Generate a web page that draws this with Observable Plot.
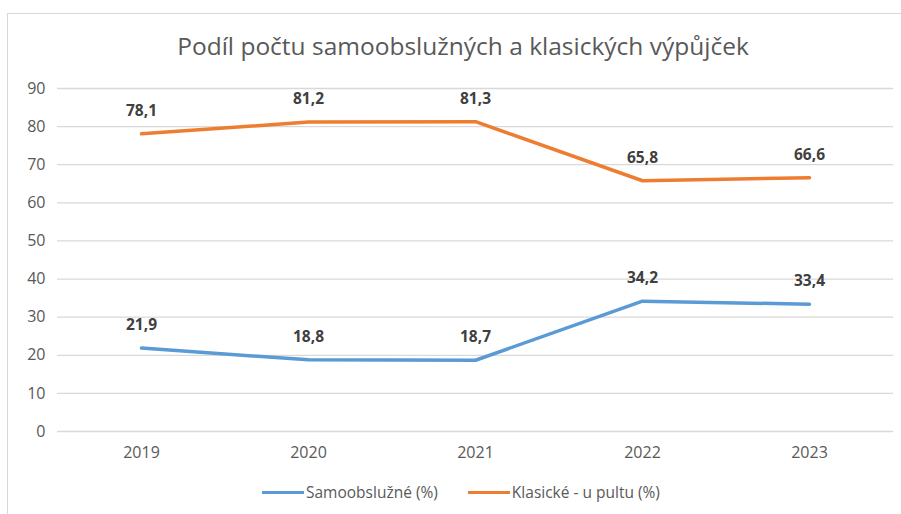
<!DOCTYPE html>
<html><head><meta charset="utf-8">
<script src="https://cdn.jsdelivr.net/npm/d3@7"></script>
<script src="https://cdn.jsdelivr.net/npm/@observablehq/plot@0.6"></script>
<style>
body{margin:0;background:#fff;font-family:"Open Sans",sans-serif;overflow:hidden;}
#frame{position:absolute;left:7px;top:13px;width:920px;height:520px;border:1px solid #d9d9d9;}
#title{position:absolute;left:0;width:926px;top:29px;text-align:center;font-size:24.5px;color:#595959;}
#chart{position:absolute;left:0;top:70px;}
#legend{position:absolute;top:481px;left:262px;font-size:15.5px;color:#595959;display:flex;align-items:center;}
.sw{display:inline-block;width:42px;height:3px;margin-right:2px;}
</style></head>
<body>
<div id="frame"></div>
<div id="title">Podíl počtu samoobslužných a klasických výpůjček</div>
<div id="chart"></div>
<div id="legend"><span class="sw" style="background:#5B9BD5"></span><span>Samoobslužné (%)</span><span style="width:30px"></span><span class="sw" style="background:#ED7D31"></span><span>Klasické - u pultu (%)</span></div>
<script>
const years = ["2019","2020","2021","2022","2023"];
const samoobsluzne = [21.9,18.8,18.7,34.2,33.4];
const klasicke = [78.1,81.2,81.3,65.8,66.6];
const yTicks = [0,10,20,30,40,50,60,70,80,90];
const seriesNames = ["Samoobslužné (%)","Klasické - u pultu (%)"];
const seriesColors = ["#5B9BD5","#ED7D31"];

const data = [];
years.forEach((y,i)=>{
  data.push({year:y, value:samoobsluzne[i], series:seriesNames[0]});
  data.push({year:y, value:klasicke[i], series:seriesNames[1]});
});
const fmt = v => v.toFixed(1).replace(".", ",");

const chart = Plot.plot({
  width: 901, height: 400,
  marginLeft: 57, marginRight: 8, marginTop: 18, marginBottom: 39,
  style:{fontFamily:"Open Sans, sans-serif", fontSize:"16px", color:"#595959", background:"transparent"},
  x:{type:"point", domain: years, padding:0.5, label:null},
  y:{domain:[0,90], ticks: yTicks, label:null},
  color:{domain: seriesNames, range: seriesColors},
  marks:[
    Plot.gridY(yTicks, {stroke:"#d9d9d9", strokeOpacity:1, strokeWidth:1.3}),
    Plot.axisY({ticks:yTicks, tickSize:0, tickPadding:12, label:null, fontSize:16}),
    Plot.axisX({tickSize:0, tickPadding:15, label:null, fontSize:16}),
    Plot.line(data, {x:"year", y:"value", stroke:"series", strokeWidth:3.5, strokeLinecap:"round", strokeLinejoin:"round"}),
    Plot.text(data, {x:"year", y:"value", text:d=>fmt(d.value), dy:-23, fontWeight:"bold", fill:"#404040", fontSize:15.5})
  ]
});
document.getElementById("chart").appendChild(chart);
</script>
</body></html>
